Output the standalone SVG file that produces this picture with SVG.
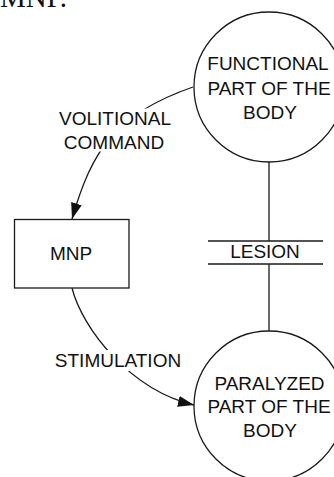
<svg xmlns="http://www.w3.org/2000/svg" width="334" height="477" viewBox="0 0 334 477">
  <style>
    .shape { fill: #fff; stroke: #1a1a1a; stroke-width: 1.3; }
    .line { fill: none; stroke: #1a1a1a; stroke-width: 1.3; }
    .lbl { font-family: "Liberation Sans", Arial, sans-serif; font-size: 19px; fill: #111; text-anchor: middle; }
    .bg { fill: #fff; stroke: none; }
  </style>
  <defs>
    <marker id="arrow" markerUnits="userSpaceOnUse" markerWidth="18" markerHeight="12" refX="16" refY="5.5" orient="auto">
      <path d="M0,0 L16,5.5 L0,11 z" fill="#111"/>
    </marker>
  </defs>

  <!-- running heading text cut by the page edge -->
  <text x="0" y="7" font-family="Liberation Serif, serif" font-size="29" fill="#111">MNP.</text>

  <!-- connectors -->
  <g id="connectors">
    <!-- volitional command: functional part -> MNP -->
    <path class="line" d="M193,87 C115,114 92,150 72,219" marker-end="url(#arrow)"/>
    <rect class="bg" x="56" y="108.5" width="118" height="43"/>
    <text class="lbl" x="115" y="125">VOLITIONAL</text>
    <text class="lbl" x="114" y="149">COMMAND</text>

    <!-- stimulation: MNP -> paralyzed part -->
    <path class="line" d="M72,288 C82,328 130,390 194,405" marker-end="url(#arrow)"/>
    <rect class="bg" x="51" y="350" width="134" height="21"/>
    <text class="lbl" x="118" y="367">STIMULATION</text>

    <!-- severed pathway between the two body parts -->
    <line class="line" x1="269" y1="162" x2="269" y2="241"/>
    <line class="line" x1="269" y1="264" x2="269" y2="331"/>
    <line class="line" x1="208" y1="241" x2="323" y2="241"/>
    <line class="line" x1="208" y1="264" x2="323" y2="264"/>
    <text class="lbl" x="265" y="258">LESION</text>
  </g>

  <g id="functional">
    <circle class="shape" cx="269" cy="87" r="75"/>
    <text class="lbl" x="268" y="70">FUNCTIONAL</text>
    <text class="lbl" x="269" y="94.5">PART OF THE</text>
    <text class="lbl" x="270" y="118.5">BODY</text>
  </g>

  <g id="mnp">
    <rect class="shape" x="14.5" y="219.5" width="114.5" height="68.5"/>
    <text class="lbl" x="71" y="260">MNP</text>
  </g>

  <g id="paralyzed">
    <circle class="shape" cx="269" cy="406" r="75"/>
    <text class="lbl" x="269.5" y="389.5">PARALYZED</text>
    <text class="lbl" x="269" y="413">PART OF THE</text>
    <text class="lbl" x="270" y="436.5">BODY</text>
  </g>
</svg>
